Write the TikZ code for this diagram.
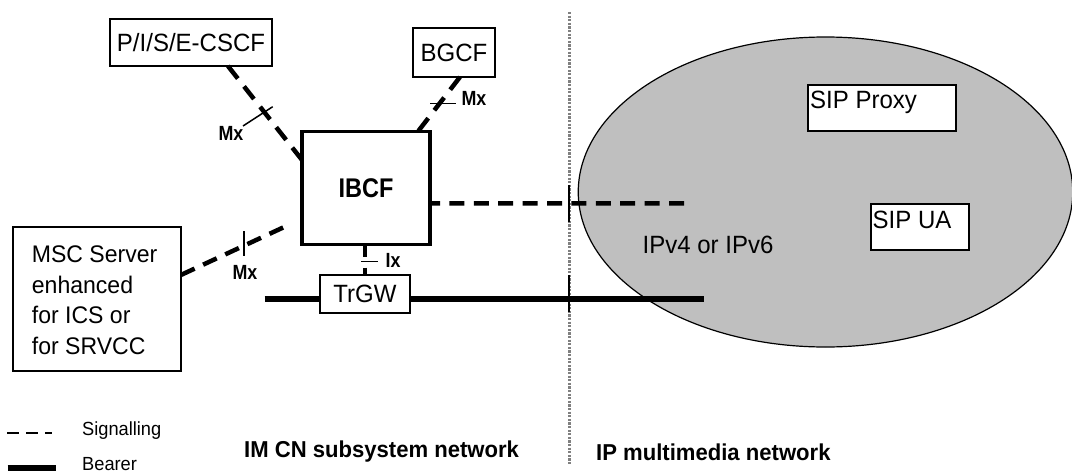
\documentclass[tikz,border=0pt]{standalone}
\usepackage{fontspec}
\setmainfont{Liberation Sans}[FakeStretch=0.96]
\newfontfamily\ifcfont{Liberation Sans}[FakeStretch=0.87]
\usetikzlibrary{shapes.geometric,calc}
\newcommand{\fs}[1]{\fontsize{#1}{#1}\selectfont}
\tikzset{
  x=1pt,y=-1pt,
  box/.style={draw=black,fill=white,line width=2pt,inner sep=0pt,outer sep=0pt,anchor=north west},
  sig/.style={line width=4.5pt,dash pattern=on 15pt off 9.4pt,black},
  sigd/.style={line width=4.5pt,dash pattern=on 16pt off 10pt,black},
  bear/.style={line width=6.2pt,black},
  tick/.style={line width=1.5pt,black},
  lbl/.style={inner sep=0pt,font=\fs{25}},
  ifc/.style={inner sep=0pt,font=\ifcfont\fs{20.5}\bfseries},
  net/.style={inner sep=0pt,anchor=west,font=\fs{23}\bfseries},
  leg/.style={inner sep=0pt,anchor=base west,font=\fs{19}},
}
\begin{document}
\begin{tikzpicture}
\useasboundingbox (0,0) rectangle (1072,474);
\fill[white] (0,0) rectangle (1072,474);
\node[ellipse,draw=black,fill=black!25,line width=1.2pt,inner sep=0pt,outer sep=0pt,minimum width=494.5pt,minimum height=310pt] (ipnet) at (825.5,192) {};
\draw[line width=3pt,draw=black!50,dash pattern=on 2.2pt off 1.4pt] (569,12) coordinate (dtop) -- (569,465) coordinate (dbot);

\node[box,minimum width=162pt,minimum height=47pt,font=\fs{25}] (cscf) at (110,19) {P/I/S/E-CSCF};
\node[box,minimum width=82pt,minimum height=49pt,font=\fs{25}] (bgcf) at (413,28) {BGCF};
\node[box,line width=3.6pt,minimum width=128pt,minimum height=113pt,font=\ifcfont\fs{27}\bfseries] (ibcf) at (302,131.5) {IBCF};
\node[box,minimum width=168pt,minimum height=144pt] (msc) at (13,227) {};
\node[box,minimum width=90pt,minimum height=37.5pt,font=\fs{25}] (trgw) at (320,275) {TrGW};
\node[box,minimum width=147.5pt,minimum height=46.5pt] (proxy) at (808,84.5) {};
\node[box,minimum width=98pt,minimum height=46.5pt] (ua) at (871,203.5) {};

\node[lbl,anchor=west,font=\fs{24}] (msc1) at (31.7,254) {MSC Server};
\node[lbl,anchor=west,font=\fs{24}] (msc2) at (31.7,285) {enhanced};
\node[lbl,anchor=west,font=\fs{24}] (msc3) at (31.7,315) {for ICS or};
\node[lbl,anchor=west,font=\fs{24}] (msc4) at (31.7,346) {for SRVCC};
\node[lbl,anchor=west] (proxyt) at (810,102) {SIP Proxy};
\node[lbl,anchor=west] (uat) at (872.5,220) {SIP UA};
\node[lbl,anchor=west] (ipv) at (642.5,245) {IPv4 or IPv6};

% signalling connectors
\draw[sigd] ($(cscf.south west)!0.728!(cscf.south east)$) -- ($(ibcf.north west)!0.252!(ibcf.south west)$);
\draw[sigd] ($(bgcf.south west)!0.573!(bgcf.south east)$) -- ($(ibcf.north west)!0.906!(ibcf.north east)$);
\draw[sig] ($(msc.north east)!0.333!(msc.south east)$) coordinate (ma) -- ($(ma)!0.858!($(ibcf.north west)!0.772!(ibcf.south west)$)$);
\draw[sig,dash phase=5pt] ($(ibcf.north east)!0.635!(ibcf.south east)$) -- (684,203.3) coordinate (sigend);
\draw[line width=4pt,black,dash pattern=on 12pt off 11pt] (ibcf.south -| trgw.north) -- (trgw.north);
% bearer
\draw[bear] (264.5,299) coordinate (bl) -- (bl -| trgw.west);
\draw[bear] (bl -| trgw.east) -- (704,299) coordinate (br);

% ticks
\draw[tick] (243,126) coordinate (t1a) -- (272.7,106.7) coordinate (t1b);
\draw[tick] (430,103.7) coordinate (t2a) -- (456,103.7) coordinate (t2b);
\draw[tick] (243.8,231) coordinate (t3a) -- (243.8,256) coordinate (t3b);
\draw[tick] (361,261.7) coordinate (t4a) -- (377.7,261.7) coordinate (t4b);
\draw[tick] (569,185) coordinate (t5a) -- (569,222) coordinate (t5b);
\draw[tick] (569,275) coordinate (t6a) -- (569,312) coordinate (t6b);

\node[ifc] (mx1) at (231,133) {Mx};
\node[ifc] (mx2) at (474,98) {Mx};
\node[ifc] (mx3) at (245,272) {Mx};
\node[ifc] (ix) at (393,260.7) {Ix};

% legend
\draw[line width=1.8pt,black,dash pattern=on 12pt off 7pt] (7,433) coordinate (l1a) -- (52,433) coordinate (l1b);
\draw[bear] (7.5,468) coordinate (l2a) -- (56,468) coordinate (l2b);
\node[leg,anchor=west] (legs) at (82,431) {Signalling};
\node[leg] (legb) at (82,470) {Bearer};
\node[net] (im) at (244,452) {IM CN subsystem network};
\node[net] (ipm) at (596,452) {IP multimedia network};
\end{tikzpicture}
\end{document}
